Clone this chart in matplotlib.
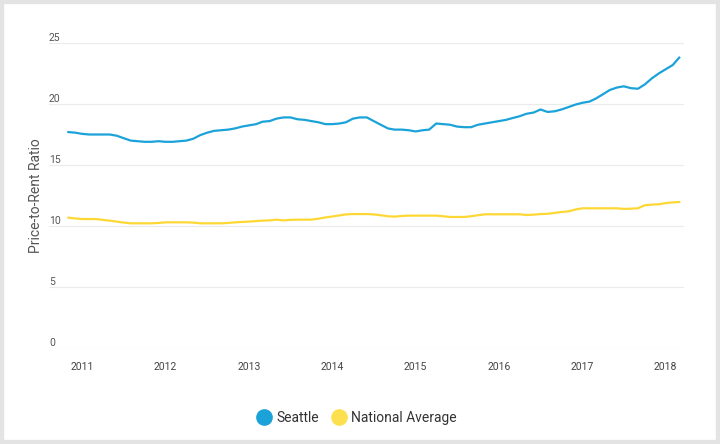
import matplotlib.pyplot as plt
import matplotlib.dates as mdates
from matplotlib.patches import Rectangle
import pandas as pd

# monthly values, Nov 2010 .. Mar 2018
months = pd.date_range('2010-11-01', periods=89, freq='MS')

seattle = [17.7, 17.65, 17.55, 17.5, 17.5, 17.5, 17.5, 17.4, 17.2, 17.0,
           16.95, 16.9, 16.9, 16.95, 16.9, 16.9, 16.95, 17.0, 17.15, 17.45,
           17.65, 17.8, 17.85, 17.9, 18.0, 18.15, 18.25, 18.35, 18.55, 18.6,
           18.8, 18.9, 18.9, 18.75, 18.7, 18.6, 18.5, 18.35, 18.35, 18.4,
           18.5, 18.8, 18.9, 18.9, 18.6, 18.3, 18.0, 17.9, 17.9, 17.85,
           17.75, 17.85, 17.9, 18.4, 18.35, 18.3, 18.15, 18.1, 18.1, 18.3,
           18.4, 18.5, 18.6, 18.7, 18.85, 19.0, 19.2, 19.3, 19.55, 19.35,
           19.4, 19.55, 19.75, 19.95, 20.1, 20.2, 20.45, 20.8, 21.15, 21.35,
           21.45, 21.3, 21.25, 21.6, 22.1, 22.5, 22.85, 23.2, 23.8]

national = [10.68, 10.62, 10.57, 10.57, 10.57, 10.5, 10.44, 10.36, 10.28, 10.22,
            10.22, 10.22, 10.22, 10.25, 10.3, 10.3, 10.3, 10.3, 10.28, 10.22,
            10.22, 10.22, 10.22, 10.25, 10.3, 10.33, 10.36, 10.4, 10.44, 10.46,
            10.52, 10.46, 10.5, 10.52, 10.52, 10.52, 10.6, 10.7, 10.78, 10.87,
            10.95, 10.98, 10.98, 10.98, 10.95, 10.88, 10.8, 10.77, 10.82, 10.85,
            10.85, 10.85, 10.85, 10.85, 10.8, 10.74, 10.74, 10.74, 10.8, 10.88,
            10.96, 10.96, 10.96, 10.96, 10.96, 10.96, 10.9, 10.93, 10.98, 11.0,
            11.07, 11.15, 11.2, 11.35, 11.45, 11.45, 11.45, 11.45, 11.45, 11.45,
            11.4, 11.42, 11.45, 11.7, 11.75, 11.78, 11.88, 11.93, 11.97]

yticks = [0, 5, 10, 15, 20, 25]
years = list(range(2011, 2019))

plt.rcParams['font.family'] = ['Roboto', 'DejaVu Sans']

fig = plt.figure(figsize=(7.2, 4.44), dpi=100)
ax = fig.add_axes([49 / 720, 1 - 348 / 444, (684 - 49) / 720, (348 - 43) / 444])

blue = '#1ba3d9'
yellow = '#fdd835'

ax.plot(months, seattle, color=blue, lw=1.6, label='Seattle', clip_on=False)
ax.plot(months, national, color=yellow, lw=1.6, label='National Average', clip_on=False)

ax.set_ylim(0, 25)
ax.set_xlim(pd.Timestamp('2010-08-08'), pd.Timestamp('2018-03-22'))

for s in ax.spines.values():
    s.set_visible(False)

# gridlines with labels sitting just above them
for v in yticks:
    ax.axhline(v, color='#ebebeb', lw=0.8, zorder=0)
    ax.text(0, v, str(v), transform=ax.get_yaxis_transform(), ha='left', va='bottom',
            fontsize=7.5, color='#555555')
ax.set_yticks([])

ax.set_xticks([pd.Timestamp(f'{y}-01-01') for y in years])
ax.xaxis.set_major_formatter(mdates.DateFormatter('%Y'))
ax.tick_params(axis='x', length=0, pad=10, labelsize=7.5, labelcolor='#444444')

fig.text(36 / 720, 1 - 196 / 444, 'Price-to-Rent Ratio', rotation=90, ha='center', va='center',
         fontsize=10, color='#555555')

handles = [plt.Line2D([], [], marker='o', ls='', markersize=11, color=blue),
           plt.Line2D([], [], marker='o', ls='', markersize=11, color='#fde04f')]
fig.legend(handles, ['Seattle', 'National Average'], loc='center', bbox_to_anchor=(0.495, 1 - 418 / 444),
           ncol=2, frameon=False, fontsize=10, handletextpad=0.3, columnspacing=0.8,
           labelcolor='#333333', handlelength=1.2)

fig.patches.append(Rectangle((0, 0), 1, 1, transform=fig.transFigure, fill=False,
                             edgecolor='#e3e3e3', linewidth=6))

fig.savefig('out.png', dpi=100)
